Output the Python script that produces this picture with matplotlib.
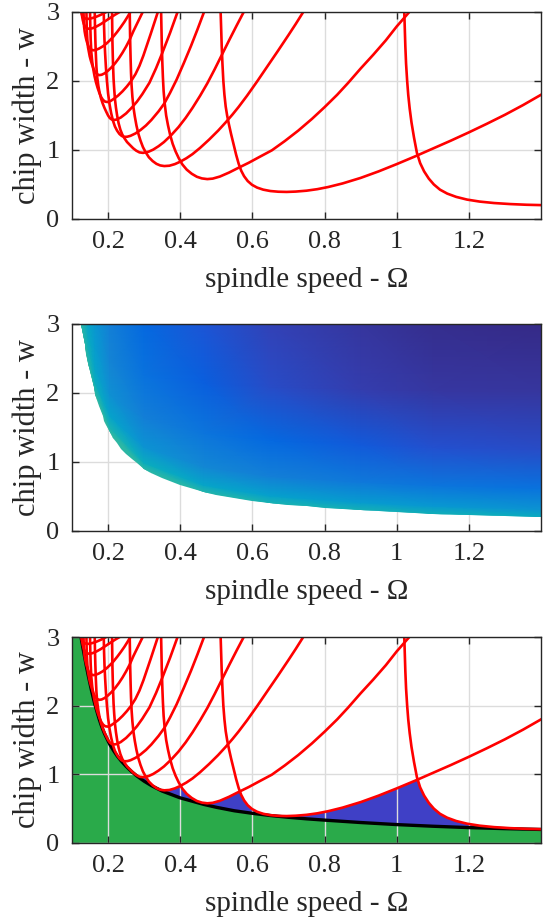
import numpy as np
import matplotlib
matplotlib.use('Agg')
import matplotlib.pyplot as plt
from matplotlib.colors import LinearSegmentedColormap
from matplotlib.patches import Polygon

plt.rcParams['font.family'] = ['Liberation Serif', 'DejaVu Serif']

# lower bound curve (black line in the last panel, edge of the coloured map)
bound_om = [0.125, 0.130, 0.135, 0.140, 0.145, 0.150, 0.155, 0.160, 0.165, 0.170,
            0.175, 0.180, 0.185, 0.190, 0.195, 0.205, 0.215, 0.225, 0.237, 0.250,
            0.265, 0.280, 0.300, 0.320, 0.350, 0.400, 0.466, 0.500, 0.550, 0.600,
            0.650, 0.700, 0.750, 0.800, 0.900, 1.000, 1.100, 1.200, 1.300, 1.400]
bound_w = [3.00, 2.85, 2.71, 2.57, 2.44, 2.32, 2.20, 2.09, 1.99, 1.90,
           1.81, 1.73, 1.66, 1.595, 1.54, 1.434, 1.347, 1.269, 1.191, 1.116,
           1.041, 0.975, 0.900, 0.836, 0.756, 0.657, 0.561, 0.520, 0.469, 0.432,
           0.400, 0.374, 0.352, 0.333, 0.298, 0.268, 0.244, 0.224, 0.209, 0.197]

# stability lobes
lobe1_om = [1.021, 1.0225, 1.024, 1.026, 1.029, 1.032, 1.036, 1.041, 1.048, 1.056,
            1.065, 1.076, 1.089, 1.103, 1.120, 1.140, 1.165, 1.195, 1.230, 1.270,
            1.315, 1.360, 1.400]
lobe1_w = [3.00, 2.75, 2.50, 2.25, 2.00, 1.80, 1.60, 1.40, 1.18, 0.96,
           0.81, 0.69, 0.585, 0.50, 0.425, 0.368, 0.320, 0.281, 0.252, 0.231,
           0.216, 0.206, 0.201]

lobe2_om = [0.512, 0.5135, 0.515, 0.517, 0.5195, 0.5225, 0.526, 0.530, 0.535, 0.541,
            0.548, 0.555, 0.562, 0.569, 0.577, 0.587, 0.599, 0.613, 0.630, 0.650,
            0.672, 0.695, 0.720, 0.750, 0.780, 0.810, 0.850, 0.900, 0.950, 1.000,
            1.050, 1.100, 1.150, 1.200, 1.250, 1.300, 1.350, 1.400]
lobe2_w = [3.00, 2.75, 2.50, 2.25, 2.00, 1.80, 1.63, 1.50, 1.37, 1.23,
           1.08, 0.93, 0.80, 0.70, 0.62, 0.55, 0.495, 0.455, 0.425, 0.405,
           0.395, 0.392, 0.397, 0.410, 0.432, 0.463, 0.515, 0.595, 0.690, 0.795,
           0.905, 1.020, 1.135, 1.255, 1.380, 1.510, 1.650, 1.800]

lobe3_om = [0.347, 0.348, 0.349, 0.3505, 0.352, 0.354, 0.357, 0.361, 0.366, 0.372,
            0.379, 0.387, 0.396, 0.406, 0.418, 0.432, 0.446, 0.460, 0.475, 0.490,
            0.510, 0.535, 0.560, 0.590, 0.620, 0.654, 0.690, 0.727, 0.765, 0.800,
            0.835, 0.865, 0.900, 0.935, 0.970, 1.000, 1.035]
lobe3_w = [3.00, 2.75, 2.50, 2.25, 2.05, 1.85, 1.67, 1.50, 1.36, 1.22,
           1.09, 0.98, 0.88, 0.79, 0.715, 0.655, 0.612, 0.588, 0.578, 0.585,
           0.615, 0.672, 0.738, 0.815, 0.900, 0.995, 1.130, 1.280, 1.450, 1.620,
           1.800, 1.970, 2.180, 2.380, 2.590, 2.790, 3.000]

lobe4_om = [0.260, 0.2607, 0.2614, 0.2625, 0.2636, 0.2651, 0.2674, 0.2704, 0.2741, 0.2786,
            0.2839, 0.2899, 0.2966, 0.3041, 0.3131, 0.3236, 0.3341, 0.3445, 0.3558, 0.370,
            0.385, 0.400, 0.417, 0.434, 0.455, 0.480, 0.505, 0.526, 0.545, 0.562,
            0.585, 0.6127, 0.640, 0.670, 0.700, 0.720, 0.741]
lobe4_w = [3.00, 2.77, 2.54, 2.31, 2.12, 1.94, 1.77, 1.615, 1.486, 1.356,
           1.236, 1.135, 1.042, 0.968, 0.894, 0.839, 0.799, 0.776, 0.767, 0.772,
           0.795, 0.830, 0.880, 0.940, 1.030, 1.150, 1.280, 1.400, 1.515, 1.625,
           1.785, 1.990, 2.200, 2.430, 2.665, 2.825, 3.000]

lobe5_om = [0.211, 0.2115, 0.212, 0.213, 0.214, 0.2152, 0.217, 0.2192, 0.2218, 0.2252,
            0.2292, 0.234, 0.2393, 0.2453, 0.2526, 0.261, 0.2695, 0.278, 0.287, 0.297,
            0.3124, 0.325, 0.340, 0.355, 0.375, 0.395, 0.415, 0.434, 0.455, 0.475,
            0.495, 0.516, 0.536, 0.556, 0.576]
lobe5_w = [3.00, 2.79, 2.58, 2.37, 2.20, 2.03, 1.88, 1.73, 1.614, 1.496,
           1.387, 1.295, 1.225, 1.170, 1.115, 1.070, 1.025, 0.990, 0.965, 0.958,
           0.975, 1.005, 1.055, 1.115, 1.215, 1.330, 1.465, 1.610, 1.785, 1.965,
           2.165, 2.385, 2.595, 2.800, 3.000]

lobe6_om = [0.188, 0.1888, 0.190, 0.1918, 0.194, 0.1968, 0.200, 0.204, 0.2085, 0.2135,
            0.219, 0.225, 0.2315, 0.238, 0.245, 0.253, 0.262, 0.276, 0.290, 0.305,
            0.320, 0.340, 0.356, 0.372, 0.390, 0.410, 0.430, 0.448, 0.466]
lobe6_w = [3.00, 2.80, 2.60, 2.40, 2.20, 2.00, 1.82, 1.665, 1.535, 1.425,
           1.34, 1.28, 1.232, 1.203, 1.19, 1.192, 1.205, 1.24, 1.29, 1.355,
           1.435, 1.56, 1.675, 1.83, 2.02, 2.26, 2.51, 2.75, 3.00]

lobe7_om = [0.163, 0.1637, 0.1647, 0.166, 0.1677, 0.170, 0.173, 0.1765, 0.1805, 0.185,
            0.190, 0.195, 0.200, 0.205, 0.210, 0.216, 0.223, 0.235, 0.250, 0.265,
            0.280, 0.295, 0.3147, 0.333, 0.3513, 0.372, 0.3926]
lobe7_w = [3.00, 2.80, 2.60, 2.40, 2.20, 2.05, 1.93, 1.83, 1.745, 1.675,
           1.61, 1.553, 1.50, 1.462, 1.442, 1.435, 1.44, 1.47, 1.53, 1.61,
           1.70, 1.81, 1.975, 2.185, 2.42, 2.70, 3.00]

lobe8_om = [0.150, 0.1507, 0.1518, 0.1535, 0.156, 0.159, 0.1625, 0.1665, 0.171, 0.176,
            0.181, 0.186, 0.192, 0.199, 0.207, 0.217, 0.228, 0.240, 0.252, 0.264,
            0.276, 0.287, 0.298, 0.318, 0.338]
lobe8_w = [3.00, 2.80, 2.60, 2.42, 2.28, 2.17, 2.07, 1.98, 1.90, 1.825,
           1.765, 1.725, 1.70, 1.695, 1.71, 1.745, 1.79, 1.85, 1.92, 2.00,
           2.10, 2.22, 2.37, 2.68, 3.00]

lobe9_om = [0.140, 0.1405, 0.1413, 0.1425, 0.1443, 0.1465, 0.149, 0.152, 0.1555, 0.1595,
            0.164, 0.169, 0.175, 0.182, 0.190, 0.200, 0.210, 0.220, 0.230, 0.240,
            0.250, 0.260, 0.270, 0.283, 0.296]
lobe9_w = [3.00, 2.85, 2.72, 2.60, 2.49, 2.43, 2.36, 2.30, 2.24, 2.18,
           2.13, 2.10, 2.085, 2.09, 2.11, 2.15, 2.20, 2.26, 2.33, 2.41,
           2.50, 2.60, 2.72, 2.86, 3.00]

lobe10_om = [0.132, 0.1325, 0.1335, 0.135, 0.137, 0.140, 0.1435, 0.148, 0.153, 0.159,
             0.166, 0.175, 0.185, 0.195, 0.205, 0.215, 0.225, 0.235, 0.245, 0.254, 0.262]
lobe10_w = [3.00, 2.88, 2.79, 2.72, 2.66, 2.59, 2.53, 2.48, 2.455, 2.445,
            2.45, 2.47, 2.50, 2.54, 2.59, 2.645, 2.71, 2.78, 2.855, 2.93, 3.00]

lobe11_om = [0.127, 0.1275, 0.1285, 0.130, 0.1325, 0.136, 0.141, 0.148, 0.157, 0.168,
             0.180, 0.193, 0.206, 0.219, 0.232]
lobe11_w = [3.00, 2.96, 2.92, 2.88, 2.83, 2.79, 2.765, 2.755, 2.765, 2.79,
            2.825, 2.87, 2.915, 2.96, 3.00]

lobe12_om = [0.1258, 0.127, 0.129, 0.132, 0.137, 0.145, 0.155, 0.167, 0.180, 0.195]
lobe12_w = [3.00, 2.97, 2.94, 2.92, 2.905, 2.90, 2.91, 2.93, 2.96, 3.00]

lobes = [(lobe1_om, lobe1_w), (lobe2_om, lobe2_w), (lobe3_om, lobe3_w),
         (lobe4_om, lobe4_w), (lobe5_om, lobe5_w), (lobe6_om, lobe6_w),
         (lobe7_om, lobe7_w), (lobe8_om, lobe8_w), (lobe9_om, lobe9_w),
         (lobe10_om, lobe10_w), (lobe11_om, lobe11_w), (lobe12_om, lobe12_w)]

# coloured map of the middle panel: value at stations along the bound,
# for layers going from the bound (0) to the top of the plot (1)
field_om = [0.125, 0.145, 0.165, 0.205, 0.300, 0.466, 0.650, 0.900, 1.100, 1.400]
field_layers = [0.0, 0.04, 0.15, 0.35, 0.65, 1.0]
field_vals = [
    [0.46, 0.46, 0.46, 0.46, 0.45, 0.44, 0.42, 0.41, 0.40, 0.38],
    [0.46, 0.45, 0.44, 0.42, 0.38, 0.34, 0.32, 0.30, 0.29, 0.27],
    [0.46, 0.43, 0.38, 0.33, 0.27, 0.23, 0.20, 0.18, 0.17, 0.16],
    [0.46, 0.40, 0.33, 0.26, 0.20, 0.17, 0.14, 0.11, 0.09, 0.08],
    [0.46, 0.37, 0.30, 0.22, 0.16, 0.12, 0.08, 0.05, 0.035, 0.03],
    [0.46, 0.34, 0.28, 0.20, 0.14, 0.10, 0.06, 0.03, 0.01, 0.00],
]

# first half of MATLAB's parula
parula_part = [(0.2081, 0.1663, 0.5292), (0.2123, 0.2138, 0.6270), (0.1959, 0.2645, 0.7279),
               (0.1253, 0.3242, 0.8303), (0.0117, 0.3875, 0.8820), (0.0329, 0.4430, 0.8720),
               (0.0723, 0.4887, 0.8467), (0.0793, 0.5200, 0.8312), (0.0641, 0.5570, 0.8240),
               (0.0343, 0.5966, 0.8199), (0.0239, 0.6287, 0.8038), (0.0228, 0.6535, 0.7768),
               (0.0384, 0.6743, 0.7436), (0.0843, 0.6928, 0.7062), (0.1453, 0.7098, 0.6646),
               (0.2178, 0.7250, 0.6193)]

xtick_vals = [0.2, 0.4, 0.6, 0.8, 1.0, 1.2]
xtick_labels = ['0.2', '0.4', '0.6', '0.8', '1', '1.2']
ytick_vals = [0, 1, 2, 3]
ytick_labels = ['0', '1', '2', '3']

XMIN, XMAX, YMIN, YMAX = 0.1, 1.4, 0.0, 3.0
RED = '#ff0000'
GREEN = '#2aaa4a'
BLUE = '#3f40c6'
AXC = '#262626'


def style(ax):
    ax.set_xlim(XMIN, XMAX)
    ax.set_ylim(YMIN, YMAX)
    ax.set_xticks(xtick_vals)
    ax.set_xticklabels(xtick_labels)
    ax.set_yticks(ytick_vals)
    ax.set_yticklabels(ytick_labels)
    ax.tick_params(direction='in', length=5, width=1, top=True, right=True,
                   labelsize=19, pad=9, color=AXC, labelcolor=AXC)
    ax.grid(True, color='#dcdcdc', linewidth=1.0)
    ax.set_axisbelow(True)
    for s in ax.spines.values():
        s.set_color(AXC)
        s.set_linewidth(1.0)
    ax.set_xlabel('spindle speed - \u03a9', fontsize=21, color=AXC, labelpad=10)
    ax.set_ylabel('chip width - w', fontsize=22, color=AXC, labelpad=3)


fig = plt.figure(figsize=(5.43, 9.22), dpi=100)
left, width = 72 / 543, 469 / 543
ax1 = fig.add_axes([left, 0.7625, width, 0.2245])
ax2 = fig.add_axes([left, 0.4246, width, 0.2240])
ax3 = fig.add_axes([left, 0.0857, width, 0.2234])

# panel 1: lobes
for om, w in lobes:
    ax1.plot(om, w, color=RED, lw=1.9, zorder=2)
style(ax1)

# panel 2: coloured map above the bound
cmap = LinearSegmentedColormap.from_list('parula_half', parula_part)
wb = np.interp(field_om, bound_om, bound_w)
X = np.tile(field_om, (len(field_layers) + 1, 1))
Y = np.vstack([0.5 * wb] + [wb + t * (YMAX - wb) for t in field_layers])
C = np.vstack([field_vals[0]] + [row for row in field_vals])
mesh = ax2.pcolormesh(X, Y, C, shading='gouraud', cmap=cmap, vmin=0, vmax=30 / 63, zorder=1)
clip = Polygon(np.c_[np.r_[bound_om, XMAX], np.r_[bound_w, YMAX]], closed=True,
               transform=ax2.transData, fc='none', ec='none')
ax2.add_patch(clip)
mesh.set_clip_path(clip)
style(ax2)

# panel 3: green below the bound, blue up to the lobes, white above them
ax3.set_facecolor(BLUE)
for om, w in lobes:
    pts = np.c_[np.r_[om, om[-1], om[0]], np.r_[w, YMAX + 0.5, YMAX + 0.5]]
    ax3.add_patch(Polygon(pts, closed=True, fc='white', ec='none', zorder=0.2))
green = np.c_[np.r_[XMIN - 0.1, XMIN - 0.1, bound_om, XMAX + 0.1, XMAX + 0.1],
              np.r_[YMIN - 0.1, YMAX + 0.5, bound_w, bound_w[-1], YMIN - 0.1]]
ax3.add_patch(Polygon(green, closed=True, fc=GREEN, ec='none', zorder=0.3))
ax3.plot(bound_om, bound_w, color='black', lw=2.4, zorder=2)
for om, w in lobes:
    ax3.plot(om, w, color=RED, lw=1.9, zorder=2.1)
style(ax3)

fig.savefig('out.png', dpi=100)
